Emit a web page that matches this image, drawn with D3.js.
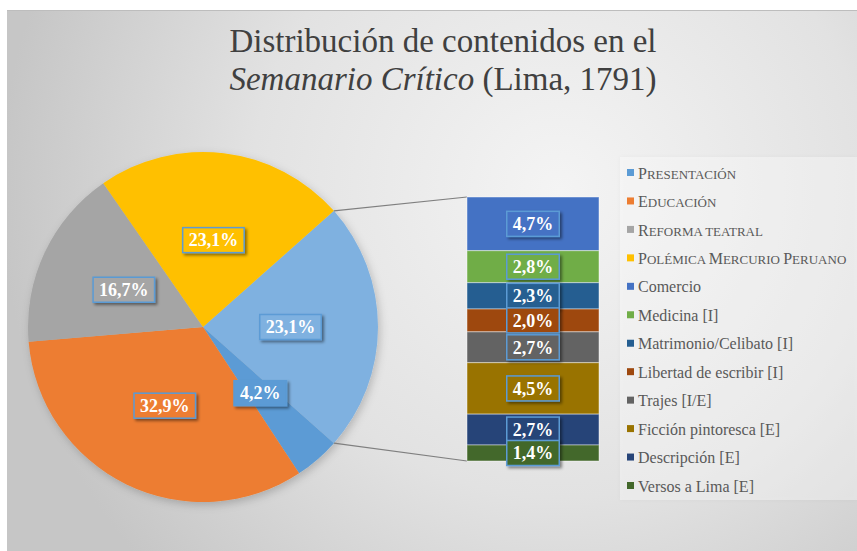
<!DOCTYPE html>
<html>
<head>
<meta charset="utf-8">
<script src="https://cdn.jsdelivr.net/npm/d3@7"></script>
<style>
  body { margin: 0; background: #fff; }
  svg { display: block; }
  text { font-family: "Liberation Serif", "DejaVu Serif", serif; }
</style>
</head>
<body>
<div id="chart"></div>
<script>
/* DATA */
const mainLabels = ["Presentación", "Educación", "Reforma teatral", "Polémica Mercurio Peruano"];
const mainValues = [4.2, 32.9, 16.7, 23.1];
const mainColors = ["#5B9BD5", "#ED7D31", "#A5A5A5", "#FFC000"];

const subLabels = ["Comercio", "Medicina [I]", "Matrimonio/Celibato [I]", "Libertad de escribir [I]",
  "Trajes [I/E]", "Ficción pintoresca [E]", "Descripción [E]", "Versos a Lima [E]"];
const subValues = [4.7, 2.8, 2.3, 2.0, 2.7, 4.5, 2.7, 1.4];
const subColors = ["#4472C4", "#70AD47", "#255E91", "#9E480E", "#636363", "#997300", "#264478", "#43682B"];

const otherColor = "#7FB1E0";

/* CONSTANTS */
const width = 857;
const height = 551;
const cx = 203, cy = 327, radius = 175;
const barLeft = 467, barWidth = 132, barTop = 197, barBottom = 461;
const serif = "'Liberation Serif', 'DejaVu Serif', serif";

const fmt = v => d3.format(".1f")(v).replace(".", ",") + "%";

const svg = d3.select("#chart").append("svg")
  .attr("width", width)
  .attr("height", height);

const defs = svg.append("defs");

// background gradient
const grad = defs.append("radialGradient")
  .attr("id", "bg")
  .attr("gradientUnits", "userSpaceOnUse")
  .attr("cx", 560).attr("cy", 190).attr("r", 560);
grad.append("stop").attr("offset", 0).attr("stop-color", "#f4f4f4");
grad.append("stop").attr("offset", 0.55).attr("stop-color", "#e2e2e2");
grad.append("stop").attr("offset", 1).attr("stop-color", "#c6c6c6");

// drop shadows
defs.append("filter").attr("id", "shadow")
  .attr("x", "-20%").attr("y", "-20%").attr("width", "150%").attr("height", "160%")
  .append("feDropShadow")
  .attr("dx", 2).attr("dy", 2).attr("stdDeviation", 1.5)
  .attr("flood-color", "#000").attr("flood-opacity", 0.45);

defs.append("filter").attr("id", "pieShadow")
  .attr("x", "-10%").attr("y", "-10%").attr("width", "125%").attr("height", "125%")
  .append("feDropShadow")
  .attr("dx", 2).attr("dy", 3).attr("stdDeviation", 4)
  .attr("flood-color", "#000").attr("flood-opacity", 0.2);

defs.append("filter").attr("id", "legendShadow")
  .attr("x", "-10%").attr("y", "-10%").attr("width", "120%").attr("height", "120%")
  .append("feDropShadow")
  .attr("dx", 0).attr("dy", 0).attr("stdDeviation", 2)
  .attr("flood-color", "#000").attr("flood-opacity", 0.08);

// chart area
svg.append("rect")
  .attr("x", 7).attr("y", 10)
  .attr("width", width - 7).attr("height", height - 10)
  .attr("fill", "url(#bg)");
svg.append("line")
  .attr("x1", 7).attr("x2", width).attr("y1", 10.5).attr("y2", 10.5)
  .attr("stroke", "#bdbdbd");

// TITLE
const title = svg.append("text")
  .attr("text-anchor", "middle")
  .style("font-family", serif)
  .attr("font-size", 33)
  .attr("fill", "#404040");
title.append("tspan").attr("x", 443).attr("y", 52).text("Distribución de contenidos en el");
const t2 = title.append("tspan").attr("x", 443).attr("y", 90);
t2.append("tspan").attr("font-style", "italic").text("Semanario Crítico");
t2.append("tspan").text(" (Lima, 1791)");

/* PIE */
const otherValue = d3.sum(subValues);
const pieValues = [otherValue, ...mainValues];
const pieColors = [otherColor, ...mainColors];
const total = d3.sum(pieValues);
const start = Math.PI / 2 - Math.PI * otherValue / total;

const pie = d3.pie().sort(null).value(d => d)
  .startAngle(start).endAngle(start + 2 * Math.PI);
const arcs = pie(pieValues);
const arc = d3.arc().innerRadius(0).outerRadius(radius);

const pieG = svg.append("g")
  .attr("transform", `translate(${cx},${cy})`);

pieG.append("g")
  .attr("filter", "url(#pieShadow)")
  .selectAll("path")
  .data(arcs)
  .join("path")
  .attr("d", arc)
  .attr("fill", (d, i) => pieColors[i]);

// connector lines from "other" slice to the bar
const otherArc = arcs[0];
const pt = a => [cx + radius * Math.sin(a), cy - radius * Math.cos(a)];
const [tx, ty] = pt(otherArc.startAngle);
const [bx, by] = pt(otherArc.endAngle);
svg.append("line")
  .attr("x1", tx).attr("y1", ty).attr("x2", barLeft).attr("y2", barTop)
  .attr("stroke", "#7f7f7f").attr("stroke-width", 1.2);
svg.append("line")
  .attr("x1", bx).attr("y1", by).attr("x2", barLeft).attr("y2", barBottom)
  .attr("stroke", "#7f7f7f").attr("stroke-width", 1.2);

/* BAR */
const yScale = d3.scaleLinear()
  .domain([0, otherValue])
  .range([barTop, barBottom]);
const cum = [0, ...d3.cumsum(subValues)];
const segs = subValues.map((v, i) => ({ v, y0: cum[i], y1: cum[i + 1], color: subColors[i] }));

svg.append("g")
  .selectAll("rect")
  .data(segs)
  .join("rect")
  .attr("x", barLeft)
  .attr("width", barWidth)
  .attr("y", d => yScale(d.y0))
  .attr("height", d => yScale(d.y1) - yScale(d.y0))
  .attr("fill", d => d.color)
  .attr("stroke", "rgba(255,255,255,0.45)")
  .attr("stroke-width", 1);

/* DATA LABELS */
function addLabel(x, y, text, fill) {
  const g = svg.append("g").attr("transform", `translate(${x},${y})`);
  const rect = g.append("rect").attr("fill", fill)
    .attr("stroke", "#5B9BD5").attr("stroke-width", 1.5)
    .attr("filter", "url(#shadow)");
  const t = g.append("text")
    .attr("text-anchor", "middle")
    .attr("dy", "0.35em")
    .style("font-family", serif)
    .attr("font-weight", "bold")
    .attr("font-size", 18)
    .attr("fill", "#fff")
    .text(text);
  const w = t.node().getComputedTextLength() + 12;
  const h = 25;
  rect.attr("x", -w / 2).attr("y", -h / 2).attr("width", w).attr("height", h);
}

const labelArc = d3.arc().innerRadius(0).outerRadius(radius);
arcs.forEach((d, i) => {
  const [lx, ly] = labelArc.centroid(d);
  addLabel(cx + lx, cy + ly, fmt(d.data), pieColors[i]);
});

segs.forEach(d => {
  addLabel(barLeft + barWidth / 2, (yScale(d.y0) + yScale(d.y1)) / 2, fmt(d.v), d.color);
});

/* LEGEND */
svg.append("rect")
  .attr("x", 620).attr("y", 157)
  .attr("width", width - 620).attr("height", 343)
  .attr("fill", "rgba(255,255,255,0.35)")
  .attr("filter", "url(#legendShadow)");

const legendItems = [
  ...mainLabels.map((l, i) => ({ label: l, color: mainColors[i], caps: true })),
  ...subLabels.map((l, i) => ({ label: l, color: subColors[i], caps: false }))
];

const legendY = d3.scalePoint()
  .domain(legendItems.map(d => d.label))
  .range([173, 486]);

const legend = svg.append("g")
  .selectAll("g")
  .data(legendItems)
  .join("g")
  .attr("transform", d => `translate(627,${legendY(d.label)})`);

legend.append("rect")
  .attr("x", 0).attr("y", -4)
  .attr("width", 7).attr("height", 7)
  .attr("fill", d => d.color);

const legendText = legend.append("text")
  .attr("x", 11)
  .attr("dy", "0.35em")
  .style("font-family", serif)
  .attr("font-size", 16)
  .attr("fill", "#595959");

// small caps by hand: uppercase letters stay full size, the rest are shrunk capitals
legendText.each(function (d) {
  const t = d3.select(this);
  if (!d.caps) { t.text(d.label); return; }
  const runs = d.label.match(/[A-ZÁÉÍÓÚÑ]+|[^A-ZÁÉÍÓÚÑ]+/g);
  runs.forEach(r => {
    const upper = r === r.toUpperCase() && /[A-ZÁÉÍÓÚÑ]/.test(r);
    t.append("tspan")
      .attr("font-size", upper ? 16 : 13)
      .text(r.toUpperCase());
  });
});
</script>
</body>
</html>
